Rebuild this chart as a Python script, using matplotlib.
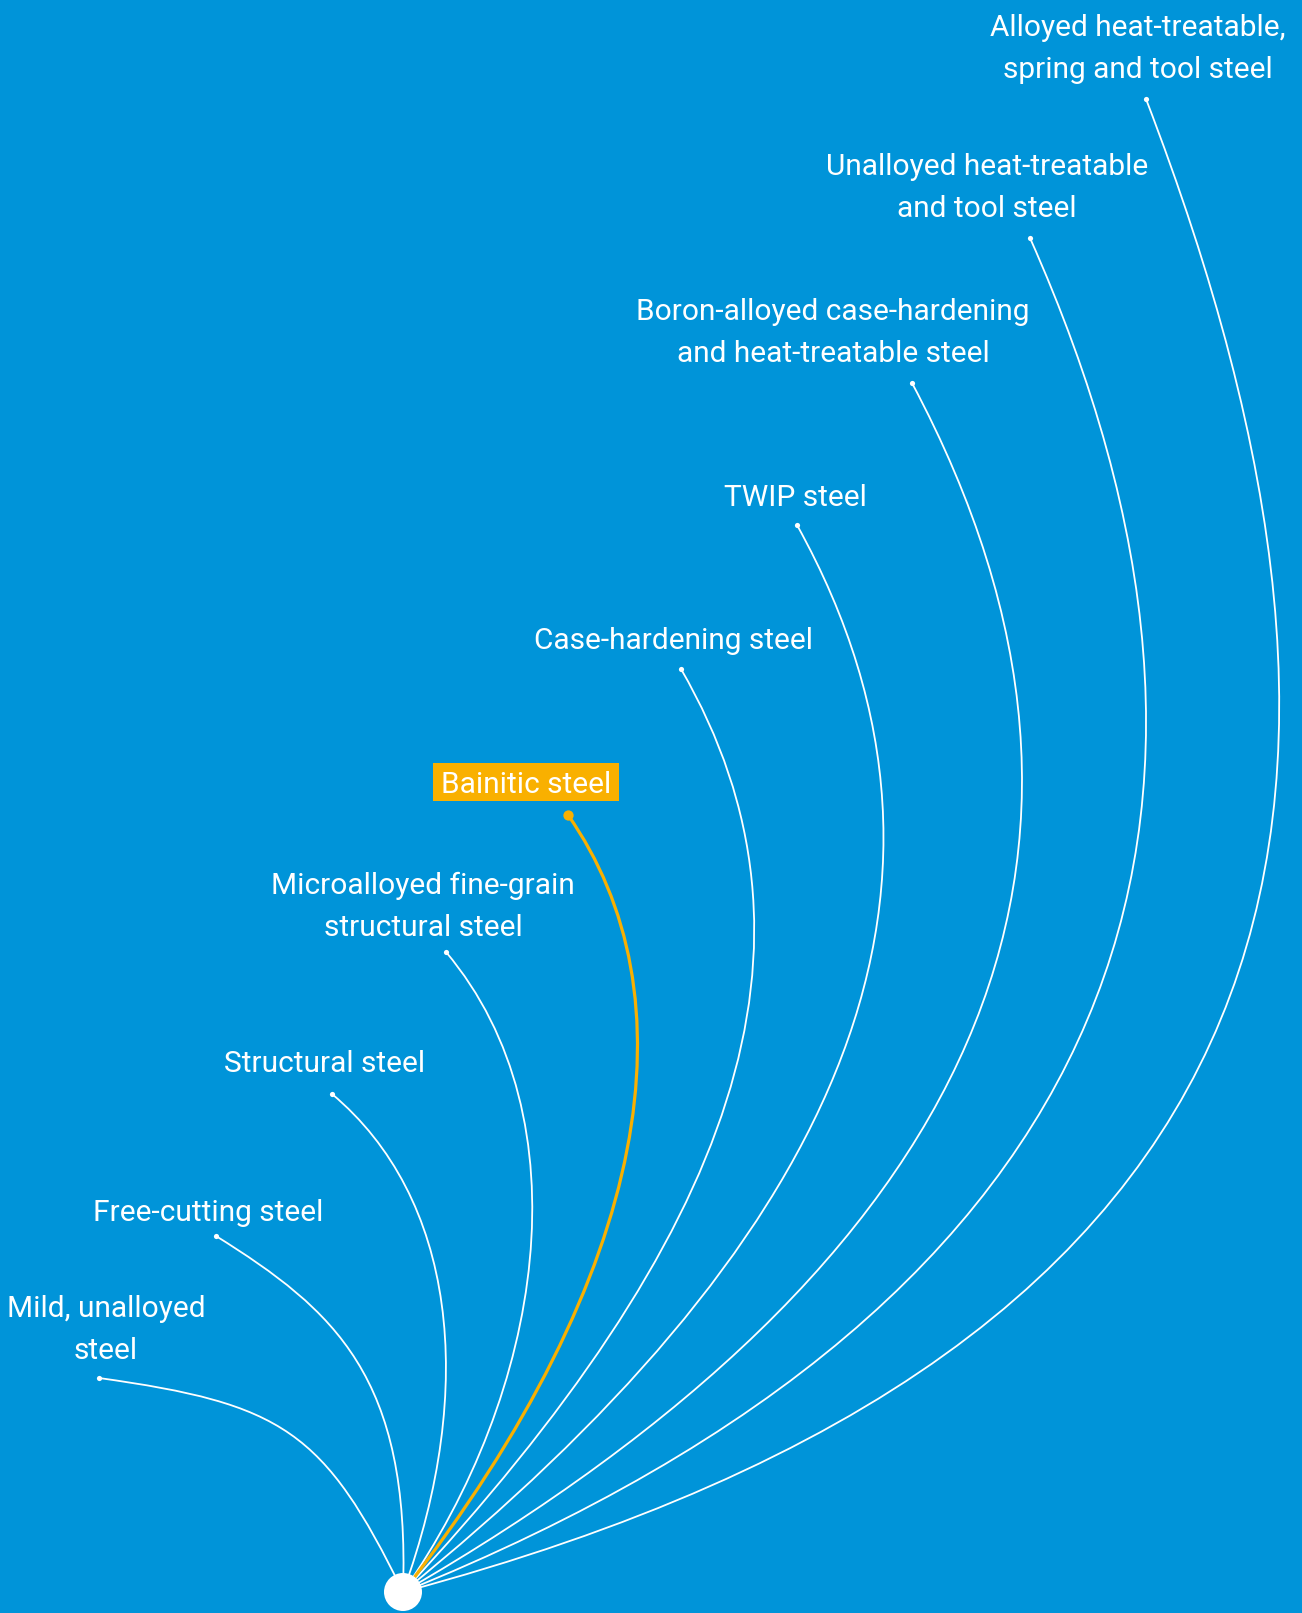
import matplotlib
matplotlib.use('Agg')
import matplotlib.pyplot as plt
from matplotlib.path import Path
from matplotlib.patches import PathPatch, Circle, Rectangle
import numpy as np

# steel grades, from lowest to highest
steel_types = [
    'Mild, unalloyed\nsteel',
    'Free-cutting steel',
    'Structural steel',
    'Microalloyed fine-grain\nstructural steel',
    'Bainitic steel',
    'Case-hardening steel',
    'TWIP steel',
    'Boron-alloyed case-hardening\nand heat-treatable steel',
    'Unalloyed heat-treatable\nand tool steel',
    'Alloyed heat-treatable,\nspring and tool steel',
]
highlight = 'Bainitic steel'

# end point of every branch (pixel coords, y down)
dot_x = [99, 216, 332, 446, 568, 681, 797, 912, 1030, 1146]
dot_y = [1378, 1236, 1094, 952, 815, 669, 525, 383, 238, 99]

# label anchor: centre x and baseline of the last line
label_x = [106, 208, 325, 423, 526, 673, 795, 833, 987, 1138]
label_y = [1359, 1221, 1072, 936, 793, 649, 506, 362, 217, 78]

# common root of all branches
hub_x, hub_y = 403, 1592

# branch shape: leaving angle at the dot (deg below horizontal),
# angle at the hub (deg, counter-clockwise) and handle lengths
dot_angle = [8, 32, 40, 50, 55, 60, 61, 62, 66, 69]
hub_angle = [116, 88, 70, 55, 52, 47, 39, 30, 22, 15]
dot_arm = [185, 140, 160, 219, 219, 320, 430, 540, 630, 760]
hub_arm = [180, 215, 220, 244, 409, 486, 540, 660, 790, 950]

BLUE = '#0094D9'
ORANGE = '#F9B000'
FONT = ['Roboto', 'DejaVu Sans']


def branch_path(i):
    '''
    cubic bezier from the label dot down to the hub
    '''
    p0 = np.array([dot_x[i], dot_y[i]], dtype=float)
    p3 = np.array([hub_x, hub_y], dtype=float)
    a0 = np.radians(dot_angle[i])
    a1 = np.radians(hub_angle[i])
    p1 = p0 + dot_arm[i] * np.array([np.cos(a0), np.sin(a0)])
    p2 = p3 + hub_arm[i] * np.array([np.cos(a1), -np.sin(a1)])
    return Path([p0, p1, p2, p3], [Path.MOVETO, Path.CURVE4, Path.CURVE4, Path.CURVE4])


fig = plt.figure(figsize=(13.02, 16.13), dpi=100)
fig.patch.set_facecolor(BLUE)
ax = fig.add_axes([0, 0, 1, 1])
ax.set_facecolor(BLUE)
ax.set_xlim(0, 1302)
ax.set_ylim(1613, 0)
ax.axis('off')

hi = steel_types.index(highlight)

for i, name in enumerate(steel_types):
    if i == hi:
        continue
    ax.add_patch(PathPatch(branch_path(i), facecolor='none', edgecolor='white', lw=1.3, zorder=2))
    ax.scatter(dot_x[i], dot_y[i], s=14, color='white', zorder=3, linewidths=0)
    ax.text(label_x[i], label_y[i], name, ha='center', va='baseline', color='white',
            fontsize=21.5, family=FONT, linespacing=1.63, multialignment='center', zorder=4)

# highlighted branch on top
ax.add_patch(PathPatch(branch_path(hi), facecolor='none', edgecolor=ORANGE, lw=2.3, zorder=5))
ax.scatter(dot_x[hi], dot_y[hi], s=55, color=ORANGE, zorder=6, linewidths=0)
txt = ax.text(label_x[hi], label_y[hi], steel_types[hi], ha='center', va='baseline', color='white',
              fontsize=21.5, family=FONT, zorder=8)

fig.canvas.draw()
bb = txt.get_window_extent().transformed(ax.transData.inverted())
x0, x1 = min(bb.x0, bb.x1), max(bb.x0, bb.x1)
ax.add_patch(Rectangle((x0 - 8, label_y[hi] - 30), (x1 - x0) + 16, 38,
                       facecolor=ORANGE, edgecolor='none', zorder=7))

# hub
ax.add_patch(Circle((hub_x, hub_y), 19, facecolor='white', edgecolor='none', zorder=9))

fig.savefig('out.png', dpi=100, facecolor=BLUE)
